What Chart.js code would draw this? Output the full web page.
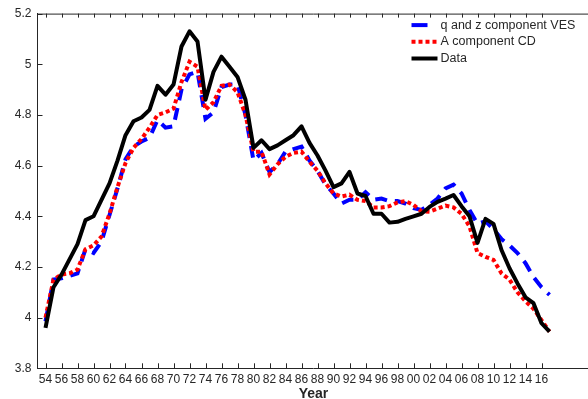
<!DOCTYPE html>
<html>
<head>
<meta charset="utf-8">
<script src="https://cdn.jsdelivr.net/npm/chart.js@4.4.1/dist/chart.umd.min.js"></script>
<style>
  html, body { margin: 0; padding: 0; background: #fff; overflow: hidden; }
  #wrap { width: 588px; height: 399px; overflow: hidden; }
</style>
</head>
<body>
<div id="wrap"><canvas id="chart" width="592" height="399"></canvas></div>
<script>
// years 1954 .. 2017
const years = [];
for (let y = 1954; y <= 2017; y++) years.push(y);

const vesValues = [
  3.985, 4.15, 4.155, 4.165, 4.175, 4.27, 4.255, 4.30, 4.405, 4.51,
  4.625, 4.675, 4.695, 4.71, 4.78, 4.75, 4.755, 4.90, 4.96, 4.97,
  4.785, 4.81, 4.91, 4.92, 4.92, 4.80, 4.62, 4.65, 4.575, 4.605,
  4.655, 4.665, 4.675, 4.62, 4.58, 4.525, 4.49, 4.45, 4.465, 4.465,
  4.495, 4.465, 4.47, 4.46, 4.46, 4.45, 4.432, 4.425, 4.445, 4.47,
  4.51, 4.525, 4.49, 4.425, 4.37, 4.38, 4.35, 4.31, 4.285, 4.255,
  4.215, 4.16, 4.12, 4.09
];

const cdValues = [
  4.00, 4.15, 4.17, 4.175, 4.19, 4.27, 4.285, 4.32, 4.41, 4.515,
  4.61, 4.67, 4.705, 4.75, 4.80, 4.81, 4.825, 4.93, 5.01, 4.99,
  4.82, 4.85, 4.915, 4.92, 4.89, 4.80, 4.655, 4.655, 4.565, 4.605,
  4.635, 4.65, 4.655, 4.615, 4.58, 4.53, 4.49, 4.478, 4.485, 4.465,
  4.46, 4.435, 4.435, 4.44, 4.455, 4.46, 4.445, 4.42, 4.418, 4.43,
  4.442, 4.435, 4.41, 4.36, 4.255, 4.24, 4.228, 4.175, 4.15, 4.10,
  4.065, 4.035, 3.99, 3.945
];

const dataValues = [
  3.96, 4.12, 4.17, 4.23, 4.29, 4.385, 4.40, 4.465, 4.53, 4.62,
  4.72, 4.775, 4.79, 4.82, 4.915, 4.88, 4.92, 5.07, 5.13, 5.09,
  4.86, 4.97, 5.03, 4.99, 4.95, 4.86, 4.67, 4.70, 4.665, 4.68,
  4.70, 4.72, 4.755, 4.69, 4.64, 4.58, 4.515, 4.53, 4.575, 4.49,
  4.48, 4.41, 4.41, 4.375, 4.378, 4.39, 4.40, 4.41, 4.437, 4.457,
  4.47, 4.484, 4.44, 4.40, 4.295, 4.39, 4.37, 4.267, 4.195, 4.135,
  4.08, 4.057, 3.978, 3.945
];

const xTickYears = [];
for (let y = 1954; y <= 2016; y += 2) xTickYears.push(y);
const yTickValues = [3.8, 4, 4.2, 4.4, 4.6, 4.8, 5, 5.2];

const seriesNames = ['q and z component VES', 'A component CD', 'Data'];

const FONT = '"Liberation Sans", Arial, Helvetica, sans-serif';
const AXIS_COLOR = '#262626';

const toPoints = vals => vals.map((v, i) => ({ x: years[i], y: v }));

// inward tick marks + top border line, like the original figure
const axisTicks = {
  id: 'axisTicks',
  afterDraw(chart) {
    const { ctx, chartArea: a, scales: { x, y } } = chart;
    ctx.save();
    ctx.strokeStyle = AXIS_COLOR;
    ctx.lineWidth = 1;
    ctx.beginPath();
    ctx.moveTo(a.left, a.top + 0.5);
    ctx.lineTo(a.right, a.top + 0.5);
    xTickYears.forEach(v => {
      const px = Math.round(x.getPixelForValue(v)) + 0.5;
      ctx.moveTo(px, a.bottom);
      ctx.lineTo(px, a.bottom - 5);
      ctx.moveTo(px, a.top);
      ctx.lineTo(px, a.top + 4);
    });
    yTickValues.forEach(v => {
      const py = Math.round(y.getPixelForValue(v)) + 0.5;
      ctx.moveTo(a.left, py);
      ctx.lineTo(a.left + 5, py);
    });
    ctx.stroke();
    ctx.restore();
  }
};

// legend drawn inside the plot, top right, no box
const innerLegend = {
  id: 'innerLegend',
  afterDraw(chart) {
    const { ctx, chartArea: a } = chart;
    const sampleDash = [[16, 12], [4, 3], []];
    ctx.save();
    chart.data.datasets.forEach((ds, i) => {
      const yy = a.top + 11.5 + i * 16.7;
      const x0 = a.right - 178;
      ctx.beginPath();
      ctx.strokeStyle = ds.borderColor;
      ctx.lineWidth = ds.borderWidth;
      ctx.lineCap = 'butt';
      ctx.setLineDash(sampleDash[i]);
      ctx.moveTo(x0, yy);
      ctx.lineTo(x0 + 26, yy);
      ctx.stroke();
      ctx.setLineDash([]);
      ctx.fillStyle = AXIS_COLOR;
      ctx.font = '12.5px ' + FONT;
      ctx.textBaseline = 'middle';
      ctx.fillText(ds.label, x0 + 29, yy);
    });
    ctx.restore();
  }
};

new Chart(document.getElementById('chart').getContext('2d'), {
  type: 'line',
  data: {
    datasets: [
      {
        label: seriesNames[0],
        data: toPoints(vesValues),
        borderColor: '#0000ff',
        borderWidth: 4,
        borderDash: [12, 8],
        borderCapStyle: 'butt',
        order: 3,
      },
      {
        label: seriesNames[1],
        data: toPoints(cdValues),
        borderColor: '#ff0000',
        borderWidth: 4,
        borderDash: [4, 3],
        borderCapStyle: 'butt',
        order: 2,
      },
      {
        label: seriesNames[2],
        data: toPoints(dataValues),
        borderColor: '#000000',
        borderWidth: 4,
        borderJoinStyle: 'round',
        order: 1,
      },
    ],
  },
  options: {
    responsive: false,
    animation: false,
    devicePixelRatio: 1,
    layout: { padding: { left: 0, top: 13.6, right: 2.5, bottom: 0 } },
    elements: { point: { radius: 0 }, line: { tension: 0, fill: false } },
    plugins: { legend: { display: false }, tooltip: { enabled: false } },
    scales: {
      x: {
        type: 'linear',
        min: 1953,
        max: 2022,
        afterBuildTicks: s => { s.ticks = xTickYears.map(v => ({ value: v })); },
        afterFit: s => { s.height = 30.7; },
        grid: { display: false, drawTicks: false },
        border: { display: true, color: AXIS_COLOR, width: 1 },
        ticks: {
          padding: 4,
          maxRotation: 0,
          autoSkip: false,
          color: AXIS_COLOR,
          font: { family: FONT, size: 12 },
          callback: v => String(v % 100).padStart(2, '0'),
        },
        title: {
          display: true,
          text: 'Year',
          color: AXIS_COLOR,
          padding: 0,
          font: { family: FONT, size: 14, weight: 'bold', lineHeight: 0.75 },
        },
      },
      y: {
        min: 3.8,
        max: 5.2,
        afterBuildTicks: s => { s.ticks = yTickValues.map(v => ({ value: v })); },
        afterFit: s => { s.width = 37.5; },
        grid: { display: false, drawTicks: false },
        border: { display: true, color: AXIS_COLOR, width: 1 },
        ticks: {
          padding: 6,
          color: AXIS_COLOR,
          font: { family: FONT, size: 12 },
          callback: v => String(+v.toFixed(1)),
        },
      },
    },
  },
  plugins: [axisTicks, innerLegend],
});
</script>
</body>
</html>
